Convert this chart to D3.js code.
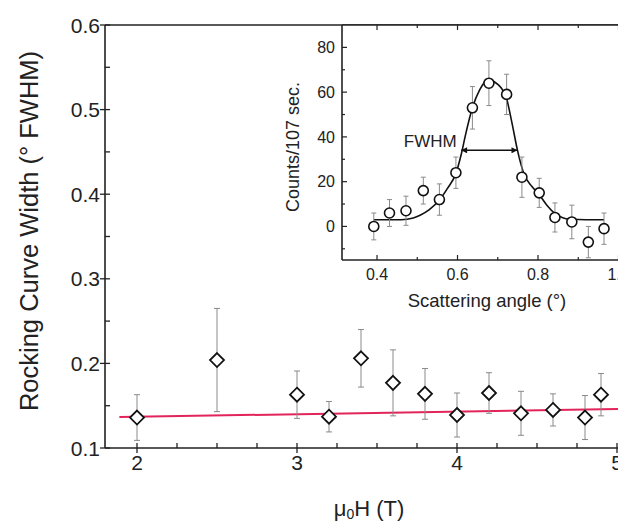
<!DOCTYPE html>
<html>
<head>
<meta charset="utf-8">
<script src="https://cdn.jsdelivr.net/npm/d3@7"></script>
<style>
  body { margin: 0; background: #fff; }
  svg text { font-family: "Liberation Sans", Arial, sans-serif; fill: #222; }
</style>
</head>
<body>
<div id="chart"></div>
<script>
// main panel data: rocking curve width vs field
const fieldT   = [2.0, 2.5, 3.0, 3.2, 3.4, 3.6, 3.8, 4.0, 4.2, 4.4, 4.6, 4.8, 4.9];
const widthDeg = [0.136, 0.204, 0.163, 0.137, 0.206, 0.177, 0.164, 0.139, 0.165, 0.141, 0.145, 0.136, 0.163];
const widthErr = [0.027, 0.061, 0.028, 0.018, 0.034, 0.039, 0.030, 0.026, 0.024, 0.026, 0.019, 0.026, 0.025];

// linear fit (red line) end points
const fitField = [1.89, 5.2];
const fitWidth = [0.1366, 0.1466];

// inset data: rocking curve
const angle    = [0.392, 0.431, 0.472, 0.515, 0.555, 0.596, 0.637, 0.678, 0.722, 0.760, 0.803, 0.842, 0.884, 0.925, 0.964];
const counts   = [0, 6, 7, 16, 12, 24, 53, 64, 59, 22, 15, 4, 2, -7, -1];
const countErr = [6, 6, 6.5, 6, 7, 7, 9.5, 10, 9, 9, 6.5, 6.5, 7.5, 7, 7];

// fit curve
const curveAngle  = [0.392, 0.46, 0.49, 0.507, 0.53, 0.555, 0.575, 0.596, 0.609, 0.62, 0.637, 0.655, 0.676, 0.70, 0.722, 0.735, 0.749, 0.765, 0.785, 0.803, 0.822, 0.842, 0.879, 0.92, 0.964];
const curveCounts = [3, 3, 3.8, 5, 7.5, 11.8, 17, 23.7, 32, 41, 53, 61, 65.5, 63.5, 57, 46.5, 34, 23.5, 17.8, 14.2, 9.5, 5.8, 3.2, 3, 3];

// FWHM arrow
const fwhmAngle = [0.609, 0.749];
const fwhmLevel = 34;

// ticks
const xTicks = [2, 3, 4, 5];
const yTicks = [0.1, 0.2, 0.3, 0.4, 0.5, 0.6];
const insetXTicks = [0.4, 0.6, 0.8, 1.0];
const insetYTicks = [0, 20, 40, 60, 80];

const W = 618, H = 523;
const svg = d3.select("#chart").append("svg")
    .attr("width", W).attr("height", H);

// main plot area
const pLeft = 105, pTop = 25, pBottom = 448;
const x = d3.scaleLinear().domain([1.8, 5.2]).range([pLeft, pLeft + 3.4 * 160]);
const y = d3.scaleLinear().domain([0.1, 0.6]).range([pBottom, pTop]);

const main = svg.append("g").attr("id", "main");

// frame lines
main.append("line").attr("x1", pLeft).attr("x2", W).attr("y1", pBottom).attr("y2", pBottom)
    .attr("stroke", "#222").attr("stroke-width", 1.6);
main.append("line").attr("x1", pLeft).attr("x2", pLeft).attr("y1", pTop).attr("y2", pBottom)
    .attr("stroke", "#222").attr("stroke-width", 1.6);
main.append("line").attr("x1", pLeft).attr("x2", W).attr("y1", pTop).attr("y2", pTop)
    .attr("stroke", "#222").attr("stroke-width", 1.6);

// x ticks (major across the axis, minor inside)
d3.range(2, 5.26, 0.25).forEach(v => {
    const major = Math.abs(v - Math.round(v)) < 1e-6;
    main.append("line").attr("x1", x(v)).attr("x2", x(v))
        .attr("y1", pBottom - 5).attr("y2", major ? pBottom + 5 : pBottom)
        .attr("stroke", "#222").attr("stroke-width", 1.3);
});
main.selectAll(".xlab").data(xTicks).enter().append("text")
    .attr("x", d => x(d)).attr("y", 470)
    .attr("text-anchor", "middle").attr("font-size", 21)
    .text(d => d);

// y ticks
d3.range(0.1, 0.6001, 0.05).forEach(v => {
    const major = Math.abs(v * 10 - Math.round(v * 10)) < 1e-6;
    main.append("line").attr("x1", major ? pLeft - 5 : pLeft).attr("x2", pLeft + 5)
        .attr("y1", y(v)).attr("y2", y(v))
        .attr("stroke", "#222").attr("stroke-width", 1.3);
});
main.selectAll(".ylab").data(yTicks).enter().append("text")
    .attr("x", 100).attr("y", d => y(d)).attr("dy", "0.36em")
    .attr("text-anchor", "end").attr("font-size", 21)
    .text(d => d.toFixed(1));

// axis titles
main.append("text")
    .attr("transform", "translate(38," + 231 + ") rotate(-90)")
    .attr("text-anchor", "middle").attr("font-size", 25.5)
    .text("Rocking Curve Width (° FWHM)");
const xt = main.append("text").attr("x", 369).attr("y", 516)
    .attr("text-anchor", "middle").attr("font-size", 22);
xt.append("tspan").text("μ");
xt.append("tspan").attr("font-size", 14).attr("dy", 3).text("0");
xt.append("tspan").attr("dy", -3).text("H (T)");

// red linear fit
main.append("line")
    .attr("x1", x(fitField[0])).attr("y1", y(fitWidth[0]))
    .attr("x2", x(fitField[1])).attr("y2", y(fitWidth[1]))
    .attr("stroke", "#e2245a").attr("stroke-width", 2);

// error bars
const pts = fieldT.map((f, i) => ({f: f, w: widthDeg[i], e: widthErr[i]}));
const eb = main.selectAll(".eb").data(pts).enter().append("g");
eb.append("line").attr("x1", d => x(d.f)).attr("x2", d => x(d.f))
    .attr("y1", d => y(d.w - d.e)).attr("y2", d => y(d.w + d.e))
    .attr("stroke", "#8a8a8a").attr("stroke-width", 1);
[-1, 1].forEach(s => {
    eb.append("line").attr("x1", d => x(d.f) - 3).attr("x2", d => x(d.f) + 3)
        .attr("y1", d => y(d.w + s * d.e)).attr("y2", d => y(d.w + s * d.e))
        .attr("stroke", "#8a8a8a").attr("stroke-width", 1);
});

// diamonds
const ds = 7;
main.selectAll(".dia").data(pts).enter().append("path")
    .attr("d", d => {
        const cx = x(d.f), cy = y(d.w);
        return "M" + cx + "," + (cy - ds) + "L" + (cx + ds) + "," + cy + "L" + cx + "," + (cy + ds) + "L" + (cx - ds) + "," + cy + "Z";
    })
    .attr("fill", "#fff").attr("stroke", "#111").attr("stroke-width", 1.8);

// ---------------- inset ----------------
const iLeft = 342, iTop = 25, iBottom = 260;
const xi = d3.scaleLinear().domain([0.313, 1.05]).range([iLeft, iLeft + (1.05 - 0.313) * 402.5]);
const yi = d3.scaleLinear().domain([-15, 90]).range([iBottom, iTop]);

const inset = svg.append("g").attr("id", "inset");
inset.append("rect").attr("x", iLeft).attr("y", iTop)
    .attr("width", W - iLeft).attr("height", iBottom - iTop)
    .attr("fill", "#fff");
inset.append("line").attr("x1", iLeft).attr("x2", W).attr("y1", iBottom).attr("y2", iBottom)
    .attr("stroke", "#222").attr("stroke-width", 1.6);
inset.append("line").attr("x1", iLeft).attr("x2", iLeft).attr("y1", iTop).attr("y2", iBottom)
    .attr("stroke", "#222").attr("stroke-width", 1.6);
inset.append("line").attr("x1", iLeft).attr("x2", W).attr("y1", iTop).attr("y2", iTop)
    .attr("stroke", "#222").attr("stroke-width", 1.6);

// inset ticks, pointing inward
d3.range(0.4, 1.051, 0.1).forEach(v => {
    const major = Math.abs(v * 5 - Math.round(v * 5)) < 1e-6;
    const len = major ? 5 : 3;
    inset.append("line").attr("x1", xi(v)).attr("x2", xi(v))
        .attr("y1", iBottom).attr("y2", iBottom - len)
        .attr("stroke", "#222").attr("stroke-width", 1.2);
    inset.append("line").attr("x1", xi(v)).attr("x2", xi(v))
        .attr("y1", iTop).attr("y2", iTop + len)
        .attr("stroke", "#222").attr("stroke-width", 1.2);
});
d3.range(-10, 90, 10).forEach(v => {
    const len = v % 20 === 0 ? 5 : 3;
    inset.append("line").attr("x1", iLeft).attr("x2", iLeft + len)
        .attr("y1", yi(v)).attr("y2", yi(v))
        .attr("stroke", "#222").attr("stroke-width", 1.2);
});
inset.selectAll(".ixl").data(insetXTicks).enter().append("text")
    .attr("x", d => xi(d)).attr("y", 280)
    .attr("text-anchor", "middle").attr("font-size", 16)
    .text(d => d.toFixed(1));
inset.selectAll(".iyl").data(insetYTicks).enter().append("text")
    .attr("x", 335).attr("y", d => yi(d)).attr("dy", "0.36em")
    .attr("text-anchor", "end").attr("font-size", 16)
    .text(d => d);

inset.append("text").attr("x", 487).attr("y", 307)
    .attr("text-anchor", "middle").attr("font-size", 18.5)
    .text("Scattering angle (°)");
inset.append("text")
    .attr("transform", "translate(299,147) rotate(-90)")
    .attr("text-anchor", "middle").attr("font-size", 18)
    .text("Counts/107 sec.");

// fit curve
const curvePts = curveAngle.map((a, i) => [a, curveCounts[i]]);
inset.append("path").datum(curvePts)
    .attr("d", d3.line().x(d => xi(d[0])).y(d => yi(d[1])).curve(d3.curveMonotoneX))
    .attr("fill", "none").attr("stroke", "#111").attr("stroke-width", 1.6);

// error bars and circles
const ipts = angle.map((a, i) => ({a: a, c: counts[i], e: countErr[i]}));
const ieb = inset.selectAll(".ieb").data(ipts).enter().append("g");
ieb.append("line").attr("x1", d => xi(d.a)).attr("x2", d => xi(d.a))
    .attr("y1", d => yi(d.c - d.e)).attr("y2", d => yi(d.c + d.e))
    .attr("stroke", "#8a8a8a").attr("stroke-width", 1);
[-1, 1].forEach(s => {
    ieb.append("line").attr("x1", d => xi(d.a) - 2.5).attr("x2", d => xi(d.a) + 2.5)
        .attr("y1", d => yi(d.c + s * d.e)).attr("y2", d => yi(d.c + s * d.e))
        .attr("stroke", "#8a8a8a").attr("stroke-width", 1);
});
inset.selectAll(".pt").data(ipts).enter().append("circle")
    .attr("cx", d => xi(d.a)).attr("cy", d => yi(d.c)).attr("r", 5)
    .attr("fill", "#fff").attr("stroke", "#111").attr("stroke-width", 1.6);

// FWHM arrow
const defs = svg.append("defs");
defs.append("marker").attr("id", "ah").attr("viewBox", "0 0 10 10")
    .attr("refX", 10).attr("refY", 5).attr("markerWidth", 8).attr("markerHeight", 6)
    .attr("markerUnits", "userSpaceOnUse").attr("orient", "auto-start-reverse")
    .append("path").attr("d", "M0,0L10,5L0,10Z").attr("fill", "#111");
inset.append("line")
    .attr("x1", xi(fwhmAngle[0])).attr("x2", xi(fwhmAngle[1]))
    .attr("y1", yi(fwhmLevel)).attr("y2", yi(fwhmLevel))
    .attr("stroke", "#111").attr("stroke-width", 1.5)
    .attr("marker-start", "url(#ah)").attr("marker-end", "url(#ah)");
inset.append("text").attr("x", xi(fwhmAngle[0]) - 4.5).attr("y", yi(fwhmLevel) - 3.5)
    .attr("text-anchor", "end").attr("font-size", 17)
    .text("FWHM");
</script>
</body>
</html>
